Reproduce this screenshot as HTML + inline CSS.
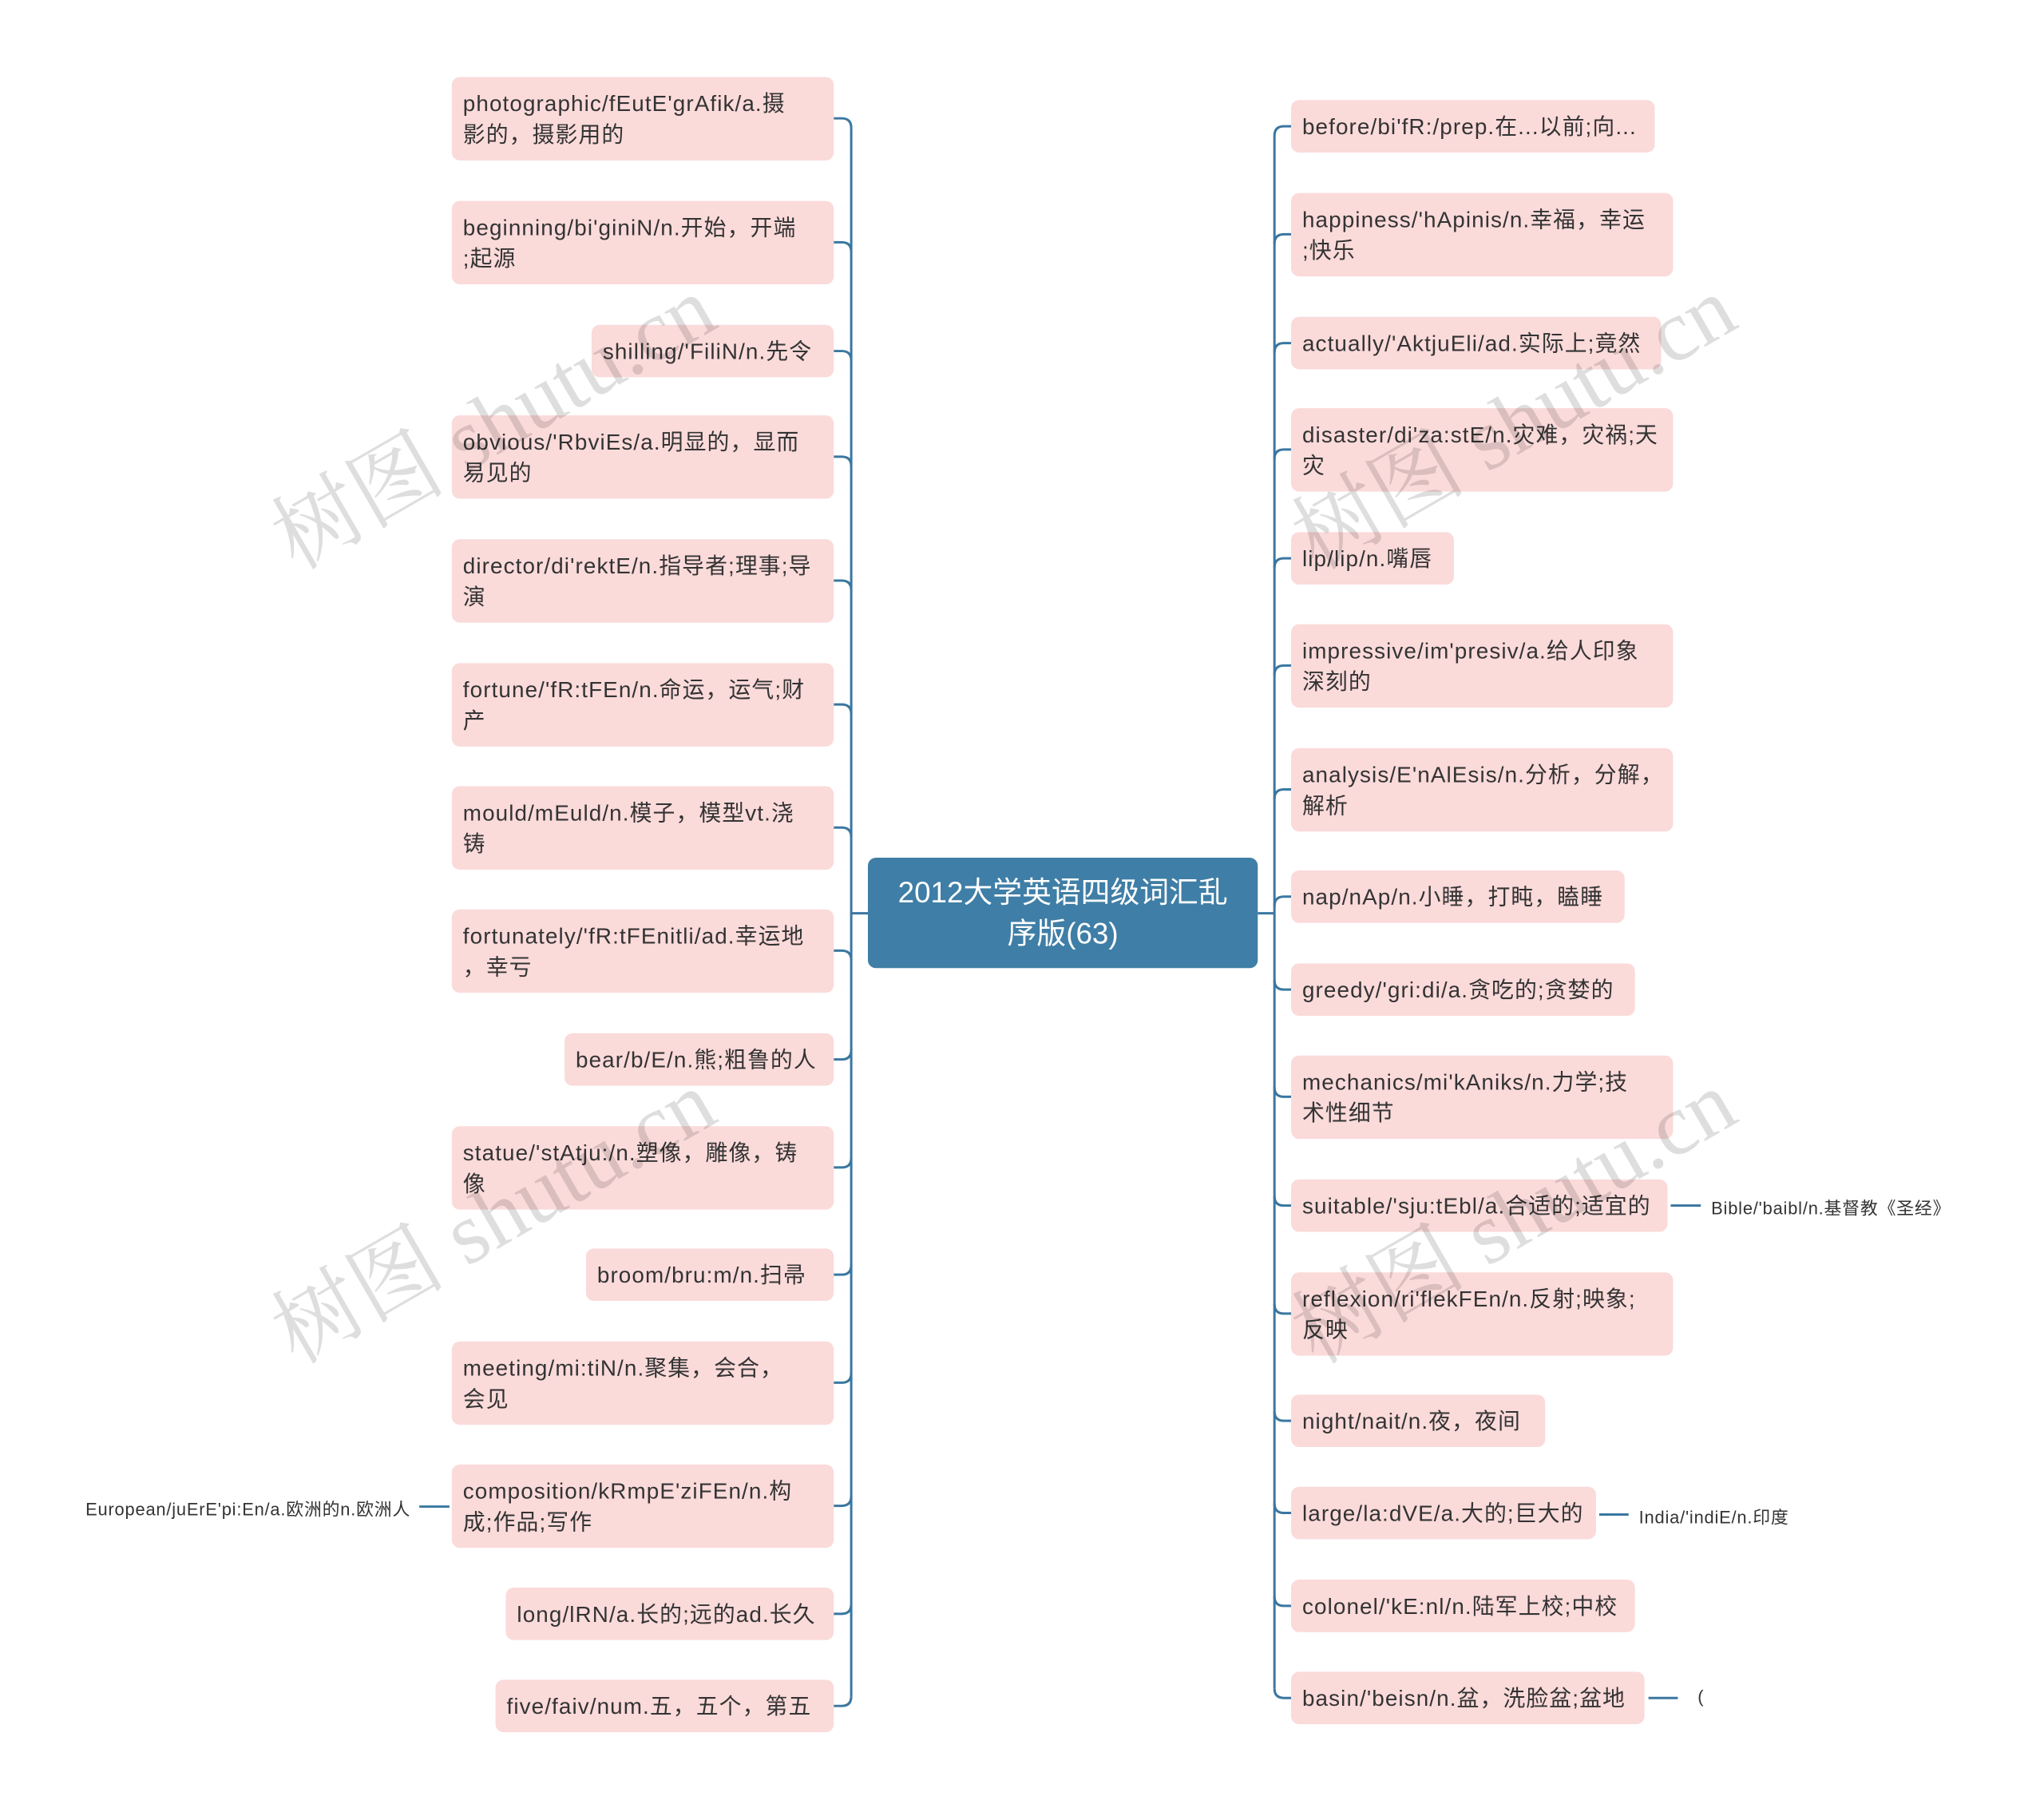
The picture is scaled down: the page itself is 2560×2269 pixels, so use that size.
<!DOCTYPE html>
<html><head><meta charset="utf-8"><style>
body{margin:0;width:2560px;height:2269px;background:#fff;position:relative;overflow:hidden;font-family:"Liberation Sans","Noto Sans CJK SC",sans-serif;}
#wrap{position:absolute;left:0;top:0;width:2560px;height:2269px;transform:scale(0.9945);transform-origin:0 0;}
.b{position:absolute;background:#fbdada;border-radius:10px;color:#333;font-size:28px;line-height:39px;padding:0 14px;box-sizing:border-box;display:flex;align-items:center;letter-spacing:1.1px;white-space:nowrap;}
.l{left:569px;width:481px;}
.r{left:1626px;}
.h2{height:105px}.h1{height:66px}
.c{position:absolute;font-size:22px;color:#333;white-space:nowrap;letter-spacing:0.8px;}
.w{position:absolute;font-family:"Liberation Serif","Noto Serif CJK SC",serif;font-size:110px;color:rgba(0,0,0,0.13);transform:rotate(-30deg);transform-origin:left top;white-space:nowrap;}
</style></head><body><div id="wrap">
<svg width="2560" height="2269" style="position:absolute;left:0;top:0" fill="none" stroke="#3a77a0" stroke-width="3">
<path d="M1072 161V2136M1605 171V2126"/>
<path d="M1093 1150H1072M1584 1150H1605"/>
<path d="M1050 149H1060Q1072 149 1072 161M1050 305H1060Q1072 305 1072 317M1050 442H1060Q1072 442 1072 454M1050 575H1060Q1072 575 1072 587M1050 731H1060Q1072 731 1072 743M1050 887H1060Q1072 887 1072 899M1050 1042H1060Q1072 1042 1072 1054M1050 1197H1060Q1072 1197 1072 1209M1050 1334H1060Q1072 1334 1072 1322M1050 1470H1060Q1072 1470 1072 1458M1050 1605H1060Q1072 1605 1072 1593M1050 1741H1060Q1072 1741 1072 1729M1050 1896H1060Q1072 1896 1072 1884M1050 2032H1060Q1072 2032 1072 2020M1050 2148H1060Q1072 2148 1072 2136"/>
<path d="M1626 159H1617Q1605 159 1605 171M1626 295H1617Q1605 295 1605 307M1626 432H1617Q1605 432 1605 444M1626 566H1617Q1605 566 1605 578M1626 703H1617Q1605 703 1605 715M1626 838H1617Q1605 838 1605 850M1626 994H1617Q1605 994 1605 1006M1626 1129H1617Q1605 1129 1605 1141M1626 1246H1617Q1605 1246 1605 1234M1626 1381H1617Q1605 1381 1605 1369M1626 1518H1617Q1605 1518 1605 1506M1626 1654H1617Q1605 1654 1605 1642M1626 1789H1617Q1605 1789 1605 1777M1626 1905H1617Q1605 1905 1605 1893M1626 2022H1617Q1605 2022 1605 2010M1626 2138H1617Q1605 2138 1605 2126"/>
<path d="M528 1897H566M2104 1518H2142M2014 1907H2051M2076 2138H2113"/>
</svg>
<div style="position:absolute;left:1093px;top:1080px;width:491px;height:139px;background:#3f7ea6;border-radius:10px;color:#fff;font-size:37px;line-height:52px;text-align:center;display:flex;align-items:center;justify-content:center;">2012大学英语四级词汇乱<br>序版(63)</div>

<div class="b l h2" style="top:97px">photographic/fEutE'grAfik/a.摄<br>影的，摄影用的</div>
<div class="b l h2" style="top:253px">beginning/bi'giniN/n.开始，开端<br>;起源</div>
<div class="b h1" style="top:409px;left:745px;width:305px">shilling/'FiliN/n.先令</div>
<div class="b l h2" style="top:523px">obvious/'RbviEs/a.明显的，显而<br>易见的</div>
<div class="b l h2" style="top:679px">director/di'rektE/n.指导者;理事;导<br>演</div>
<div class="b l h2" style="top:835px">fortune/'fR:tFEn/n.命运，运气;财<br>产</div>
<div class="b l h2" style="top:990px">mould/mEuld/n.模子，模型vt.浇<br>铸</div>
<div class="b l h2" style="top:1145px">fortunately/'fR:tFEnitli/ad.幸运地<br>，幸亏</div>
<div class="b h1" style="top:1301px;left:711px;width:339px">bear/b/E/n.熊;粗鲁的人</div>
<div class="b l h2" style="top:1418px">statue/'stAtju:/n.塑像，雕像，铸<br>像</div>
<div class="b h1" style="top:1572px;left:738px;width:312px">broom/bru:m/n.扫帚</div>
<div class="b l h2" style="top:1689px">meeting/mi:tiN/n.聚集，会合，<br>会见</div>
<div class="b l h2" style="top:1844px">composition/kRmpE'ziFEn/n.构<br>成;作品;写作</div>
<div class="b h1" style="top:1999px;left:637px;width:413px">long/lRN/a.长的;远的ad.长久</div>
<div class="b h1" style="top:2115px;left:624px;width:426px">five/faiv/num.五，五个，第五</div>

<div class="b r h1" style="top:126px;width:458px">before/bi'fR:/prep.在...以前;向...</div>
<div class="b r h2" style="top:243px;width:481px">happiness/'hApinis/n.幸福，幸运<br>;快乐</div>
<div class="b r h1" style="top:399px;width:466px">actually/'AktjuEli/ad.实际上;竟然</div>
<div class="b r h2" style="top:514px;width:481px">disaster/di'za:stE/n.灾难，灾祸;天<br>灾</div>
<div class="b r h1" style="top:670px;width:205px">lip/lip/n.嘴唇</div>
<div class="b r h2" style="top:786px;width:481px">impressive/im'presiv/a.给人印象<br>深刻的</div>
<div class="b r h2" style="top:942px;width:481px">analysis/E'nAlEsis/n.分析，分解，<br>解析</div>
<div class="b r h1" style="top:1096px;width:420px">nap/nAp/n.小睡，打盹，瞌睡</div>
<div class="b r h1" style="top:1213px;width:433px">greedy/'gri:di/a.贪吃的;贪婪的</div>
<div class="b r h2" style="top:1329px;width:481px">mechanics/mi'kAniks/n.力学;技<br>术性细节</div>
<div class="b r h1" style="top:1485px;width:474px">suitable/'sju:tEbl/a.合适的;适宜的</div>
<div class="b r h2" style="top:1602px;width:481px">reflexion/ri'flekFEn/n.反射;映象;<br>反映</div>
<div class="b r h1" style="top:1756px;width:320px">night/nait/n.夜，夜间</div>
<div class="b r h1" style="top:1872px;width:384px">large/la:dVE/a.大的;巨大的</div>
<div class="b r h1" style="top:1989px;width:433px">colonel/'kE:nl/n.陆军上校;中校</div>
<div class="b r h1" style="top:2105px;width:445px">basin/'beisn/n.盆，洗脸盆;盆地</div>

<div class="c" style="right:2043px;top:1883px">European/juErE'pi:En/a.欧洲的n.欧洲人</div>
<div class="c" style="left:2155px;top:1504px">Bible/'baibl/n.基督教《圣经》</div>
<div class="c" style="left:2064px;top:1893px">India/'indiE/n.印度</div>
<div class="c" style="left:2138px;top:2124px">(</div>

<div class="w" style="left:310px;top:610px">树图 shutu.cn</div>
<div class="w" style="left:310px;top:1610px">树图 shutu.cn</div>
<div class="w" style="left:1595px;top:610px">树图 shutu.cn</div>
<div class="w" style="left:1595px;top:1610px">树图 shutu.cn</div>
</div></body></html>
